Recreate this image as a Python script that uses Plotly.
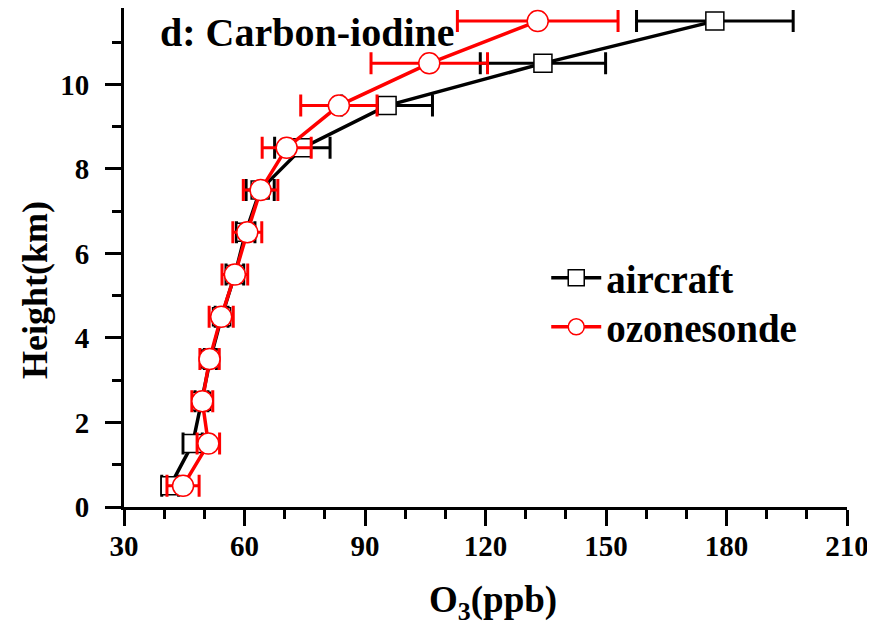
import plotly.graph_objects as go

heights = [0.5, 1.5, 2.5, 3.5, 4.5, 5.5, 6.5, 7.5, 8.5, 9.5, 10.5, 11.5]
aircraft = [41.5, 47.1, 49.3, 51.5, 54.3, 57.6, 60.3, 63.9, 74.4, 95.5, 134.3, 177.1]
aircraft_err = [2.1, 2.4, 1.6, 1.5, 1.6, 2.2, 2.3, 3.5, 6.9, 11.3, 15.6, 19.5]
ozonesonde = [44.7, 51.0, 49.5, 51.3, 54.2, 57.6, 60.7, 64.0, 70.5, 83.5, 106.0, 133.0]
ozonesonde_err = [4.0, 2.8, 2.6, 2.4, 3.0, 3.2, 3.6, 4.3, 6.1, 9.5, 14.5, 20.0]

FONT = "Liberation Serif, Times New Roman, DejaVu Serif, serif"

def f(size):
    return dict(family=FONT, size=size, color="black", weight="bold")

fig = go.Figure()
fig.add_trace(go.Scatter(
    x=aircraft, y=heights, name="aircraft", mode="lines+markers", legend="legend",
    line=dict(color="black", width=3.5),
    marker=dict(symbol="square", size=18, color="white", line=dict(color="black", width=1.5)),
    error_x=dict(type="data", array=aircraft_err, color="black", thickness=3, width=11),
))
fig.add_trace(go.Scatter(
    x=ozonesonde, y=heights, name="ozonesonde", mode="lines+markers", legend="legend2",
    line=dict(color="red", width=3.5),
    marker=dict(symbol="circle", size=21, color="white", line=dict(color="red", width=1.5)),
    error_x=dict(type="data", array=ozonesonde_err, color="red", thickness=3, width=11),
))

leg = dict(x=0.584, xanchor="left", yanchor="top", font=f(39), itemwidth=50,
           bgcolor="rgba(0,0,0,0)")
fig.update_layout(
    width=875, height=634,
    margin=dict(l=116, r=36, t=0, b=135, autoexpand=False),
    plot_bgcolor="white", paper_bgcolor="white",
    font=f(20),
    showlegend=True,
    legend=dict(leg, y=0.523),
    legend2=dict(leg, y=0.425),
)
fig.update_xaxes(
    range=[30, 210], tick0=30, dtick=30, showgrid=False, zeroline=False,
    showline=True, linecolor="black", linewidth=3, automargin=False,
    ticks="outside", ticklen=16, tickwidth=3, tickcolor="black",
    tickfont=f(29),
    minor=dict(dtick=10, ticks="outside", ticklen=9, tickwidth=3, tickcolor="black"),
    ticklabelstandoff=-5,
)
fig.update_yaxes(
    range=[0, 11.81], tick0=0, dtick=2, showgrid=False, zeroline=False,
    showline=True, linecolor="black", linewidth=3, automargin=False,
    ticks="outside", ticklen=16, tickwidth=3, tickcolor="black",
    tickfont=f(29),
    minor=dict(dtick=1, ticks="outside", ticklen=9, tickwidth=3, tickcolor="black"),
    ticklabelstandoff=10,
)
fig.add_annotation(text="d: Carbon-iodine", xref="paper", yref="paper",
                   x=0.047, y=0.95, xanchor="left", yanchor="middle", showarrow=False,
                   font=f(40))
fig.add_annotation(text="O<sub>3</sub>(ppb)", xref="paper", yref="paper",
                   x=0.51, y=-0.192, xanchor="center", yanchor="middle", showarrow=False,
                   font=f(37))
fig.add_annotation(text="Height(km)", xref="paper", yref="paper",
                   x=-0.123, y=0.435, xanchor="center", yanchor="middle", showarrow=False,
                   textangle=-90, font=f(36))

fig.write_html("out.html")
